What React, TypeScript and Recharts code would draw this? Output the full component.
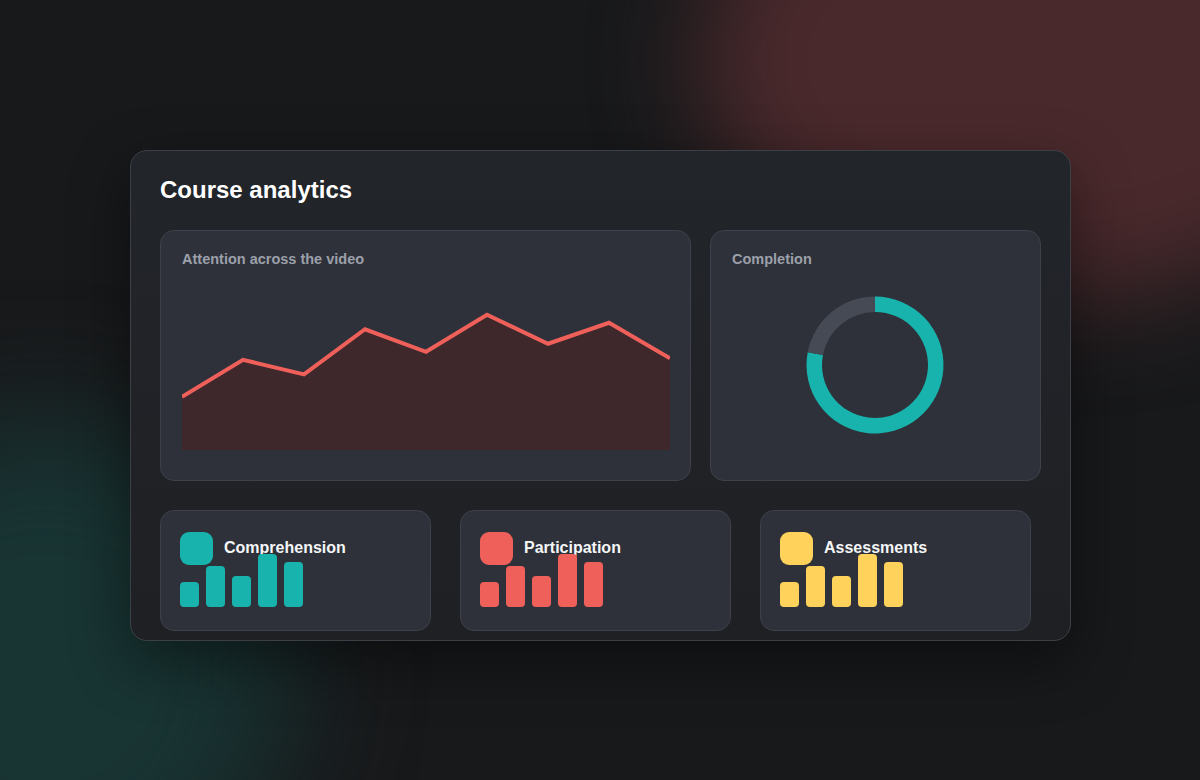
import React from 'react';
import { AreaChart, Area, XAxis, YAxis, PieChart, Pie, Cell, BarChart, Bar } from 'recharts';

// attention curve, sampled along the video
const attentionSteps = ['0%', '12%', '25%', '37%', '50%', '62%', '75%', '87%', '100%'];
const attentionValues = [33, 56, 47, 75, 61, 84, 66, 79, 57];

const completionLabels = ['Completed', 'Remaining'];
const completionValues = [78, 22];

const weekLabels = ['W1', 'W2', 'W3', 'W4', 'W5'];
const comprehensionValues = [25, 41, 31, 53, 45];
const participationValues = [25, 41, 31, 53, 45];
const assessmentValues = [25, 41, 31, 53, 45];

const FONT = '"Liberation Sans", Arial, Helvetica, sans-serif';
const RED = '#f0605a';
const TEAL = '#17b3ac';
const YELLOW = '#ffd25c';

const panel: React.CSSProperties = {
  position: 'absolute',
  background: '#2e3139',
  border: '1px solid #3e414a',
  borderRadius: 14,
  boxSizing: 'border-box'
};

const panelTitle: React.CSSProperties = {
  position: 'absolute',
  left: 21,
  top: 20,
  fontSize: 14.5,
  lineHeight: '16px',
  fontWeight: 700,
  color: '#9ca0aa'
};

function MiniCard({ left, title, color, values }: { left: number; title: string; color: string; values: number[] }) {
  const data = weekLabels.map((w, i) => ({ week: w, value: values[i] }));
  return (
    <div style={{ ...panel, left, top: 510, width: 271, height: 121 }}>
      <div
        style={{
          position: 'absolute',
          left: 19,
          top: 21,
          width: 33,
          height: 33,
          borderRadius: 9,
          background: color
        }}
      />
      <div
        style={{
          position: 'absolute',
          left: 63,
          top: 28,
          fontSize: 16,
          lineHeight: '18px',
          fontWeight: 700,
          color: '#f5f6f8'
        }}
      >
        {title}
      </div>
      <div style={{ position: 'absolute', left: 15, top: 35.7 }}>
        <BarChart width={130} height={60} data={data} margin={{ top: 0, right: 0, bottom: 0, left: 0 }}>
          <XAxis dataKey="week" hide />
          <YAxis hide domain={[0, 60]} />
          <Bar dataKey="value" fill={color} barSize={19} radius={4} isAnimationActive={false} />
        </BarChart>
      </div>
    </div>
  );
}

export default function App() {
  const attentionData = attentionSteps.map((s, i) => ({ step: s, attention: attentionValues[i] }));
  const completionData = completionLabels.map((l, i) => ({ name: l, value: completionValues[i] }));

  return (
    <div
      style={{
        position: 'fixed',
        left: 0,
        top: 0,
        width: 1200,
        height: 780,
        overflow: 'hidden',
        background: '#18191b',
        fontFamily: FONT
      }}
    >
      {/* background glows */}
      <div
        style={{
          position: 'absolute',
          left: 700,
          top: -180,
          width: 700,
          height: 480,
          borderRadius: '50%',
          background: '#4a292c',
          filter: 'blur(50px)'
        }}
      />
      <div
        style={{
          position: 'absolute',
          left: -200,
          top: 420,
          width: 490,
          height: 500,
          borderRadius: '50%',
          background: '#183433',
          filter: 'blur(60px)'
        }}
      />

      {/* main card */}
      <div
        style={{
          position: 'absolute',
          left: 130,
          top: 150,
          width: 941,
          height: 491,
          boxSizing: 'border-box',
          borderRadius: 17,
          border: '1px solid #3c3f46',
          background: 'linear-gradient(180deg, #22252a 0%, #1f2024 100%)',
          boxShadow: '0 20px 60px rgba(0,0,0,0.45)'
        }}
      />
      <div
        style={{
          position: 'absolute',
          left: 160,
          top: 176,
          fontSize: 24,
          lineHeight: '28px',
          fontWeight: 700,
          color: '#ffffff'
        }}
      >
        Course analytics
      </div>

      {/* attention card */}
      <div style={{ ...panel, left: 160, top: 230, width: 531, height: 251 }}>
        <div style={panelTitle}>Attention across the video</div>
        <div style={{ position: 'absolute', left: 21, top: 58 }}>
          <AreaChart width={488} height={161} data={attentionData} margin={{ top: 0, right: 0, bottom: 0, left: 0 }}>
            <XAxis dataKey="step" hide />
            <YAxis hide domain={[0, 100]} />
            <Area
              type="linear"
              dataKey="attention"
              stroke={RED}
              strokeWidth={4}
              fill="#3e282b"
              fillOpacity={1}
              isAnimationActive={false}
            />
          </AreaChart>
        </div>
      </div>

      {/* completion card */}
      <div style={{ ...panel, left: 710, top: 230, width: 331, height: 251 }}>
        <div style={panelTitle}>Completion</div>
        <div style={{ position: 'absolute', left: 83, top: 53 }}>
          <PieChart width={162} height={162} margin={{ top: 0, right: 0, bottom: 0, left: 0 }}>
            <Pie
              data={completionData}
              dataKey="value"
              nameKey="name"
              cx={81}
              cy={81}
              innerRadius={53}
              outerRadius={68.5}
              startAngle={90}
              endAngle={-270}
              stroke="none"
              isAnimationActive={false}
            >
              <Cell fill={TEAL} />
              <Cell fill="#464a54" />
            </Pie>
          </PieChart>
        </div>
      </div>

      <MiniCard left={160} title="Comprehension" color={TEAL} values={comprehensionValues} />
      <MiniCard left={460} title="Participation" color={RED} values={participationValues} />
      <MiniCard left={760} title="Assessments" color={YELLOW} values={assessmentValues} />
    </div>
  );
}
